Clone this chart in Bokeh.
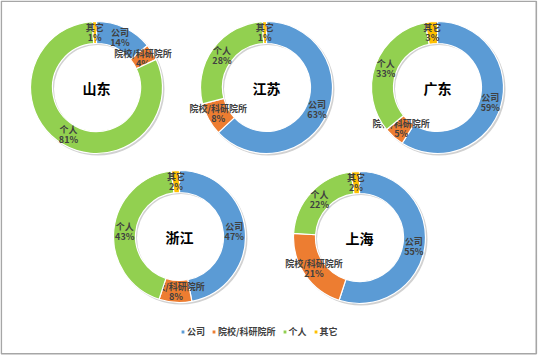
import numpy as np
from bokeh.plotting import figure
from bokeh.models import Range1d, ColumnDataSource, Legend, LegendItem
from bokeh.core.properties import value
from bokeh.embed import file_html
from bokeh.resources import INLINE

# ---- data ----
regions = ["山东", "江苏", "广东", "浙江", "上海"]
categories = ["公司", "院校/科研院所", "个人", "其它"]
company = [14, 63, 59, 47, 55]
institute = [4, 8, 5, 8, 21]
individual = [81, 28, 33, 43, 22]
other = [1, 1, 3, 2, 2]
series = [company, institute, individual, other]

# ---- layout / style ----
colors = ["#5B9BD5", "#ED7D31", "#92D050", "#FFC000"]
W, H = 538, 355
centers_x = [96, 266, 437, 179, 359]
centers_y_img = [87, 87, 87, 236, 237]
cy = [H - v for v in centers_y_img]
R_OUT, R_IN = 66, 44
R_LAB = 55
FONT = "Noto Sans CJK SC"

p = figure(width=W, height=H, x_range=Range1d(0, W), y_range=Range1d(0, H),
           output_backend="svg", toolbar_location=None, min_border=0,
           x_axis_location=None, y_axis_location=None)
p.grid.visible = False
p.outline_line_color = None
p.background_fill_color = "white"

# frame border
p.quad(left=0.8, right=535.8, bottom=H - 353.3, top=H - 0.8,
       fill_color=None, line_color="#A6A6A6", line_width=1.6)

# shadow
p.annulus(x=[x + 1.5 for x in centers_x], y=[y - 1.5 for y in cy],
          inner_radius=R_IN, outer_radius=R_OUT + 0.5,
          fill_color="#8C8C8C", fill_alpha=0.4, line_color=None)

vals = np.array(series, dtype=float)  # shape (4, 5)
totals = vals.sum(axis=0)
cum_end = np.cumsum(vals, axis=0) / totals
cum_start = cum_end - vals / totals

legend_items = []
for k, cat in enumerate(categories):
    s = 2 * np.pi * cum_start[k]
    e = 2 * np.pi * cum_end[k]
    src = ColumnDataSource(dict(
        x=centers_x, y=cy,
        start=(np.pi / 2 - e).tolist(), end=(np.pi / 2 - s).tolist(),
    ))
    r = p.annular_wedge(x="x", y="y", inner_radius=R_IN, outer_radius=R_OUT,
                        start_angle="start", end_angle="end", direction="anticlock",
                        fill_color=colors[k], line_color="white", line_width=1.2,
                        source=src)
    legend_items.append(LegendItem(label=cat, renderers=[r]))

    mid = (s + e) / 2
    lx = [centers_x[i] + R_LAB * np.sin(mid[i]) for i in range(len(regions))]
    ly = [cy[i] + R_LAB * np.cos(mid[i]) for i in range(len(regions))]
    pct = [f"{int(round(v))}%" for v in series[k]]
    p.text(x=lx, y=[y + 5 for y in ly], text=[cat] * len(regions),
           text_align="center", text_baseline="middle",
           text_font=value(FONT), text_font_size="9px", text_font_style="bold",
           text_color="#404040")
    p.text(x=lx, y=[y - 5 for y in ly], text=pct,
           text_align="center", text_baseline="middle",
           text_font=value(FONT), text_font_size="9px", text_font_style="bold",
           text_color="#404040")

# center labels
p.text(x=centers_x, y=cy, text=regions, text_align="center", text_baseline="middle",
       text_font=value(FONT), text_font_size="14px", text_font_style="bold",
       text_color="#000000")

legend = Legend(items=legend_items, location=(180, 17), orientation="horizontal",
                glyph_width=5, glyph_height=5, label_standoff=2, spacing=6,
                label_height=10, label_width=10, padding=0, margin=0,
                border_line_color=None, background_fill_alpha=0,
                label_text_font=FONT, label_text_font_size="9px",
                label_text_font_style="bold", label_text_color="#404040")
p.add_layout(legend, "center")

open("out.html", "w").write(file_html(p, INLINE))
